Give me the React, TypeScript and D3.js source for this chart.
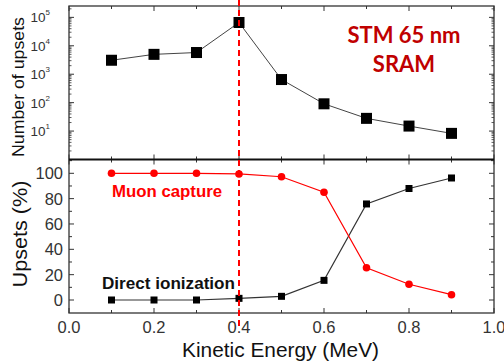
import React from "react";
import * as d3 from "d3";

const energies = [0.1, 0.2, 0.3, 0.4, 0.5, 0.6, 0.7, 0.8, 0.9];
const upsetCounts = [3100, 5000, 5800, 66000, 650, 91, 28, 15, 8.3];
const muonCapture = [100, 100, 100, 99.5, 97.3, 85, 25.5, 12.4, 4.2];
const directIonization = [0, 0, 0, 1.3, 2.9, 15.5, 75.8, 88, 96.3];
const xTicks = [0, 0.2, 0.4, 0.6, 0.8, 1.0];
const logTicks = [1, 2, 3, 4, 5];
const pctTicks = [0, 20, 40, 60, 80, 100];

const W = 504, H = 363;
const L = 69, R = 494, T = 6, MID = 159.5, B = 313;
const FONT = "'Liberation Sans', Arial, sans-serif";

export default function App() {
  const x = d3.scaleLinear().domain([0, 1]).range([L, R]);
  const yLog = d3.scaleLog().domain([1, Math.pow(10, 5.4)]).range([MID, T]);
  const yPct = d3.scaleLinear().domain([0, 100]).range([300, 173.3]);

  const upperLine = d3.line<number>().x((_, i) => x(energies[i])).y((d) => yLog(d))(upsetCounts) || "";
  const redLine = d3.line<number>().x((_, i) => x(energies[i])).y((d) => yPct(d))(muonCapture) || "";
  const blackLine = d3.line<number>().x((_, i) => x(energies[i])).y((d) => yPct(d))(directIonization) || "";

  const xt = d3.range(0, 11).map((i) => i / 10);
  const axisColor = "#333";

  const minorLog: number[] = [];
  for (let e = 0; e < 6; e++) for (let m = 2; m <= 9; m++) {
    const v = m * Math.pow(10, e);
    if (v < Math.pow(10, 5.4)) minorLog.push(v);
  }
  const pctAll = d3.range(-10, 111, 10).filter((v) => yPct(v) > MID + 1 && yPct(v) < B - 1);

  return (
    <svg width={W} height={H} style={{ position: "absolute", left: 0, top: 0, background: "#fff" }} fontFamily={FONT}>
      {/* x ticks on top, middle, bottom */}
      {xt.map((v, i) => {
        const major = i % 2 === 0;
        const len = major ? 5 : 3;
        const px = x(v);
        return (
          <g key={"xt" + i} stroke={axisColor} strokeWidth={1}>
            <line x1={px} x2={px} y1={T} y2={T + len} />
            <line x1={px} x2={px} y1={MID - len} y2={MID + len} />
            <line x1={px} x2={px} y1={B} y2={B - len} />
          </g>
        );
      })}
      {/* upper log ticks */}
      {logTicks.map((e) => (
        <g key={"lt" + e} stroke={axisColor}>
          <line x1={L} x2={L + 5} y1={yLog(Math.pow(10, e))} y2={yLog(Math.pow(10, e))} />
          <line x1={R} x2={R - 5} y1={yLog(Math.pow(10, e))} y2={yLog(Math.pow(10, e))} />
        </g>
      ))}
      {minorLog.map((v, i) => (
        <g key={"ml" + i} stroke={axisColor} strokeWidth={0.8}>
          <line x1={L} x2={L + 2.5} y1={yLog(v)} y2={yLog(v)} />
          <line x1={R} x2={R - 2.5} y1={yLog(v)} y2={yLog(v)} />
        </g>
      ))}
      {/* lower pct ticks */}
      {pctAll.map((v) => {
        const major = v % 20 === 0;
        const len = major ? 5 : 3;
        return (
          <g key={"pt" + v} stroke={axisColor}>
            <line x1={L} x2={L + len} y1={yPct(v)} y2={yPct(v)} />
            <line x1={R} x2={R - len} y1={yPct(v)} y2={yPct(v)} />
          </g>
        );
      })}
      {/* frame */}
      <rect x={L} y={T} width={R - L} height={B - T} fill="none" stroke={axisColor} strokeWidth={1.3} />
      <line x1={L} x2={R} y1={MID} y2={MID} stroke="#111" strokeWidth={2} />

      {/* tick labels */}
      {logTicks.map((e) => (
        <text key={"ll" + e} x={L - 19} y={yLog(Math.pow(10, e)) + 5} fontSize={13.5} fill="#333" textAnchor="end">
          10
          <tspan fontSize={8} dy={-7}>{e}</tspan>
        </text>
      ))}
      {pctTicks.map((v) => (
        <text key={"pl" + v} x={L - 6} y={yPct(v) + 6} fontSize={16.5} fill="#333" textAnchor="end">
          {v}
        </text>
      ))}
      {xTicks.map((v) => (
        <text key={"xl" + v} x={x(v)} y={333} fontSize={16.5} fill="#333" textAnchor="middle">
          {v.toFixed(1)}
        </text>
      ))}

      {/* axis labels */}
      <text transform="translate(24,87) rotate(-90)" fontSize={17} fill="#111" textAnchor="middle" textLength={140} lengthAdjust="spacingAndGlyphs">
        Number of upsets
      </text>
      <text transform="translate(27,234) rotate(-90)" fontSize={20} fill="#111" textAnchor="middle" textLength={107} lengthAdjust="spacingAndGlyphs">
        Upsets (%)
      </text>
      <text x={280.5} y={357} fontSize={19.5} fill="#111" textAnchor="middle" textLength={197} lengthAdjust="spacingAndGlyphs">
        Kinetic Energy (MeV)
      </text>

      {/* series */}
      <path d={upperLine} fill="none" stroke="#444" strokeWidth={1} />
      {upsetCounts.map((v, i) => (
        <rect key={"us" + i} x={x(energies[i]) - 5.5} y={yLog(v) - 5.5} width={11} height={11} fill="#000" />
      ))}
      <path d={blackLine} fill="none" stroke="#333" strokeWidth={1.2} />
      <path d={redLine} fill="none" stroke="#ff0000" strokeWidth={1.2} />
      {directIonization.map((v, i) => (
        <rect key={"di" + i} x={x(energies[i]) - 3.5} y={yPct(v) - 3.5} width={7} height={7} fill="#000" />
      ))}
      {muonCapture.map((v, i) => (
        <circle key={"mc" + i} cx={x(energies[i])} cy={yPct(v)} r={3.8} fill="#ff0000" />
      ))}

      {/* annotations */}
      <line x1={x(0.4)} x2={x(0.4)} y1={0} y2={328} stroke="#ff0000" strokeWidth={2} strokeDasharray="6,4" />
      <text x={404} y={43} fontSize={22} fontWeight="bold" fill="#c00000" textAnchor="middle" fontFamily="Lato, 'Open Sans', sans-serif">
        STM 65 nm
      </text>
      <text x={404} y={72} fontSize={22} fontWeight="bold" fill="#c00000" textAnchor="middle" fontFamily="Lato, 'Open Sans', sans-serif">
        SRAM
      </text>
      <text x={112} y={197} fontSize={17} fontWeight="bold" fill="#ff0000" textLength={110} lengthAdjust="spacingAndGlyphs">
        Muon capture
      </text>
      <text x={102} y={289} fontSize={17} fontWeight="bold" fill="#111" textLength={133} lengthAdjust="spacingAndGlyphs">
        Direct ionization
      </text>
    </svg>
  );
}
